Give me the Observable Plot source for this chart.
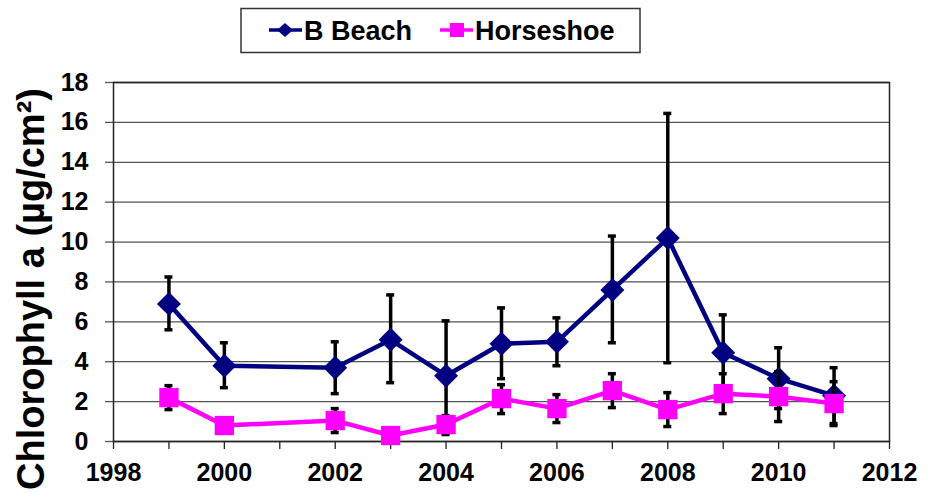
<!DOCTYPE html>
<html>
<head>
<meta charset="utf-8">
<script src="https://cdn.jsdelivr.net/npm/d3@7"></script>
<script src="https://cdn.jsdelivr.net/npm/@observablehq/plot@0.6"></script>
<style>
  body { margin: 0; background: #fff; font-family: "Liberation Sans", Arial, sans-serif; }
  #wrap { width: 935px; }
  #legend { display: block; }
</style>
</head>
<body>
<div id="wrap">
  <svg id="legend" width="935" height="60" xmlns="http://www.w3.org/2000/svg">
    <rect x="241" y="8.5" width="399" height="44" fill="#fff" stroke="#333" stroke-width="1.5"></rect>
    <line x1="269" y1="30" x2="302" y2="30" stroke="#000080" stroke-width="3.5"></line>
    <polygon points="285,23 293,30 285,37 277,30" fill="#000080"></polygon>
    <text x="304" y="40" font-family="Liberation Sans, Arial, sans-serif" font-weight="bold" font-size="27" fill="#000">B Beach</text>
    <line x1="440" y1="30" x2="473" y2="30" stroke="#FF00FF" stroke-width="3.5"></line>
    <rect x="450" y="23" width="14" height="14" fill="#FF00FF"></rect>
    <text x="475" y="40" font-family="Liberation Sans, Arial, sans-serif" font-weight="bold" font-size="27" fill="#000">Horseshoe</text>
  </svg>
  <div id="chart"></div>
</div>
<script>
// ---- data ----
const seriesNames = ["B Beach", "Horseshoe"];
const years = [1999, 2000, 2002, 2003, 2004, 2005, 2006, 2007, 2008, 2009, 2010, 2011];

const bbMean = [6.9, 3.8, 3.7, 5.1, 3.3, 4.9, 5.0, 7.6, 10.2, 4.45, 3.15, 2.3];
const bbLow  = [5.6, 2.7, 2.4, 2.95, 0.35, 3.15, 3.8, 4.95, 3.95, 2.6, 1.65, 0.9];
const bbHigh = [8.25, 4.95, 5.0, 7.35, 6.05, 6.7, 6.2, 10.3, 16.45, 6.35, 4.7, 3.7];

const hsMean = [2.2, 0.8, 1.05, 0.3, 0.85, 2.15, 1.65, 2.55, 1.6, 2.4, 2.25, 1.9];
const hsLow  = [1.6, 0.6, 0.45, 0.15, 0.4, 1.4, 0.95, 1.7, 0.75, 1.4, 1.0, 0.8];
const hsHigh = [2.8, 1.0, 1.65, 0.45, 1.3, 2.85, 2.35, 3.4, 2.45, 3.4, 3.5, 3.0];

const xTicks = [1998, 1999, 2000, 2001, 2002, 2003, 2004, 2005, 2006, 2007, 2008, 2009, 2010, 2011, 2012];
const yTicks = [0, 2, 4, 6, 8, 10, 12, 14, 16, 18];
const yTitle = "Chlorophyll a (µg/cm²)";

// ---- build tables ----
const bb = years.map((y, i) => ({year: y, mean: bbMean[i], low: bbLow[i], high: bbHigh[i], series: seriesNames[0]}));
const hs = years.map((y, i) => ({year: y, mean: hsMean[i], low: hsLow[i], high: hsHigh[i], series: seriesNames[1]}));

const navy = "#000080", magenta = "#FF00FF";

function errorMarks(data) {
  return [
    Plot.ruleX(data, {x: "year", y1: "low", y2: "high", stroke: "#000", strokeWidth: 3.5}),
    Plot.ruleY(data, {y: "high", x1: "year", x2: "year", insetLeft: -4, insetRight: -4, stroke: "#000", strokeWidth: 3.5}),
    Plot.ruleY(data, {y: "low", x1: "year", x2: "year", insetLeft: -4, insetRight: -4, stroke: "#000", strokeWidth: 3.5})
  ];
}

const chart = Plot.plot({
  width: 935,
  height: 433,
  marginTop: 22,
  marginBottom: 52,
  marginLeft: 113,
  marginRight: 46,
  style: {fontFamily: "Liberation Sans, Arial, sans-serif", fontWeight: "bold", color: "#000", background: "#fff", overflow: "visible"},
  x: {domain: [1998, 2012]},
  y: {domain: [0, 18]},
  marks: [
    Plot.gridY(yTicks, {stroke: "#555", strokeOpacity: 1, strokeWidth: 1.3}),
    Plot.axisY(yTicks, {tickSize: 8, tickPadding: 17, fontSize: 25, label: null, stroke: "#555", strokeWidth: 1.3, tickFormat: d => String(d)}),
    Plot.axisX(xTicks, {tickSize: 8, tickPadding: 14, fontSize: 25, label: null, stroke: "#222", strokeWidth: 1.3, tickFormat: d => d % 2 === 0 ? String(d) : ""}),
    Plot.frame({stroke: "#222", strokeWidth: 1.5}),
    ...errorMarks(bb),
    Plot.line(bb, {x: "year", y: "mean", stroke: navy, strokeWidth: 4.5}),
    Plot.dot(bb, {x: "year", y: "mean", symbol: "diamond2", r: 10.8, fill: navy, stroke: "none"}),
    ...errorMarks(hs),
    Plot.line(hs, {x: "year", y: "mean", stroke: magenta, strokeWidth: 4.5}),
    Plot.dot(hs, {x: "year", y: "mean", symbol: "square", r: 10.9, fill: magenta, stroke: "none"}),
    Plot.text([yTitle], {frameAnchor: "left", text: d => d, textAnchor: "middle", lineAnchor: "middle", rotate: -90, dx: -82, dy: 27, fontSize: 38, fontWeight: "bold", fill: "#000"})
  ]
});
document.getElementById("chart").appendChild(chart);
</script>
</body>
</html>
